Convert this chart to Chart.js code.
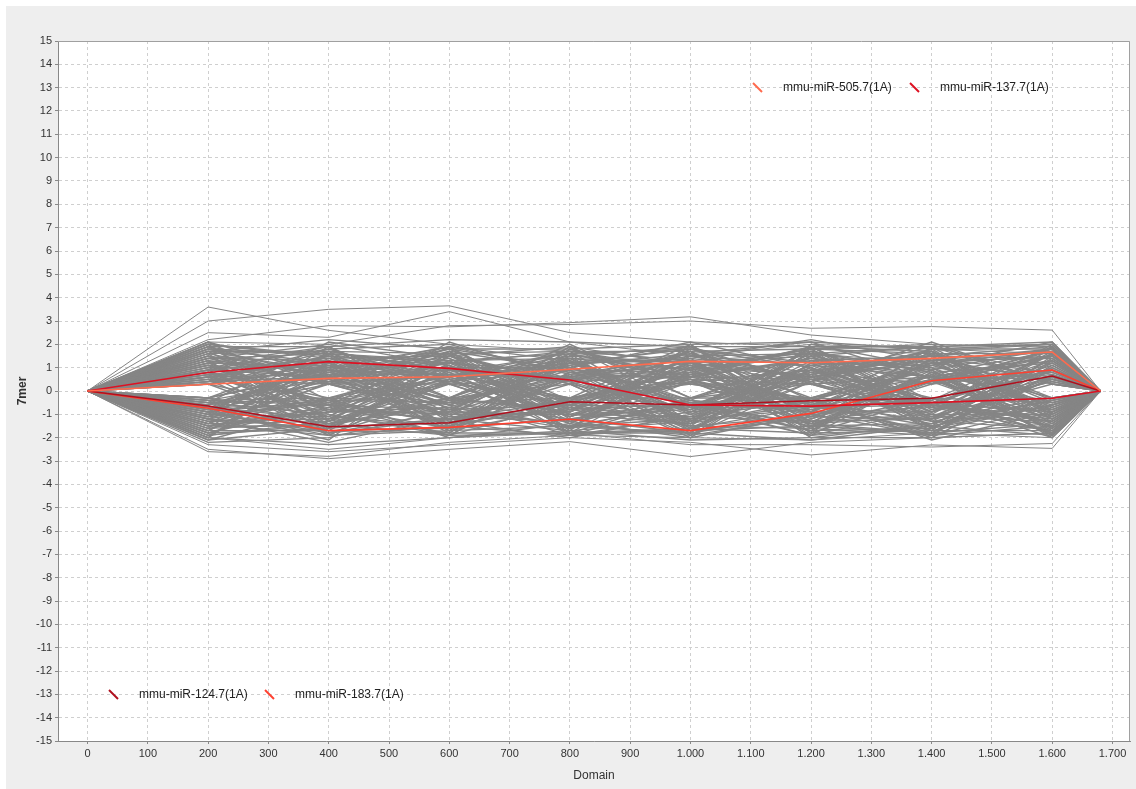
<!DOCTYPE html>
<html>
<head>
<meta charset="utf-8">
<script src="https://cdn.jsdelivr.net/npm/chart.js@4.4.1/dist/chart.umd.min.js"></script>
<style>
  html, body { margin: 0; padding: 0; background: #ffffff; }
  #wrap { position: absolute; left: 6px; top: 6px; width: 1130px; height: 783px; background: #eeeeee; }
</style>
</head>
<body>
<div id="wrap"><canvas id="chart" width="1130" height="783"></canvas></div>
<script>
// domain positions (x) shared by every profile
const domainX = [0, 200, 400, 600, 800, 1000, 1200, 1400, 1600, 1680];

// highlighted miRNAs
const hlLabels = ['mmu-miR-505.7(1A)', 'mmu-miR-137.7(1A)', 'mmu-miR-124.7(1A)', 'mmu-miR-183.7(1A)'];
const mir505 = [0, 0.29, 0.54, 0.61, 0.93, 1.27, 1.21, 1.40, 1.67, 0];
const mir137 = [0, 0.79, 1.26, 0.97, 0.47, -0.60, -0.65, -0.50, -0.31, 0];
const mir124 = [0, -0.64, -1.53, -1.36, -0.46, -0.60, -0.42, -0.31, 0.64, 0];
const mir183 = [0, -0.74, -1.70, -1.56, -1.21, -1.70, -0.96, 0.44, 0.90, 0];

// background profiles (grey), estimated
const greyRows = [
  [0, 1.8, 1.2, -0.6, 0.9, -1.4, 0.5, 1.6, -0.8, 0],
  [0, -1.5, -0.7, 1.3, -1.1, 0.6, 1.9, -0.4, 1.2, 0],
  [0, 0.4, 1.7, 0.8, -1.6, -0.9, -0.3, 1.1, 1.8, 0],
  [0, -0.9, -1.8, -1.2, 0.5, 1.4, 0.8, -1.5, -0.6, 0],
  [0, 1.1, -0.5, 1.9, 1.3, -0.4, -1.7, 0.7, -1.3, 0],
  [0, -0.3, 0.9, -1.7, -0.7, 1.8, 1.2, -0.9, 0.4, 0],
  [0, 2.0, 1.5, 0.4, 1.7, 0.9, -0.8, -1.9, 1.5, 0],
  [0, -1.9, -1.3, -0.4, -1.9, -1.6, 0.4, 1.4, -1.8, 0],
  [0, 0.7, -1.1, 1.5, 0.3, 1.1, -1.3, 0.3, 0.8, 0],
  [0, -0.6, 0.4, -0.9, 1.9, -0.7, 1.6, -0.6, -1.1, 0],
  [0, 1.4, 2.0, 1.1, -0.4, 0.3, -0.5, 1.8, 2.0, 0],
  [0, -1.2, -0.3, -2.0, -1.4, -1.9, -1.1, -1.2, -0.3, 0],
  [0, 0.3, 1.0, 0.5, 1.1, 1.6, 2.1, 0.5, -1.6, 0],
  [0, -2.1, -1.6, 0.7, -0.3, 0.4, -0.4, -2.0, 0.6, 0],
  [0, 1.6, 0.6, -1.4, 0.6, -1.2, 0.9, 1.3, 1.4, 0],
  [0, -0.8, -2.1, 1.7, -1.7, 2.0, -1.8, -0.3, -0.5, 0],
  [0, 0.9, 1.4, -0.3, 2.0, -0.3, 1.4, 0.9, -2.0, 0],
  [0, -1.4, 0.3, -1.1, -0.9, 1.2, -0.6, -1.7, 1.9, 0],
  [0, 1.9, -0.9, 2.1, 0.5, 0.8, 1.8, 2.0, 0.3, 0],
  [0, -0.4, -1.4, 0.3, -1.3, -0.5, -1.5, 0.4, -1.4, 0],
  [0, 1.2, 1.9, -0.8, 1.5, 1.9, 0.3, -1.1, 1.0, 0],
  [0, -1.7, 0.7, 1.0, -0.5, -1.1, 1.1, 1.5, -0.9, 0],
  [0, 0.5, -1.9, -1.5, 0.8, 0.7, -1.0, -0.7, 1.6, 0],
  [0, -1.0, 1.2, 1.6, -1.8, -1.8, 2.0, 1.0, -1.7, 0],
  [0, 2.1, -0.4, -0.5, 1.2, 1.3, -2.0, -1.4, 0.5, 0],
  [0, -2.0, 1.6, 0.6, -1.0, -0.8, 0.6, 1.7, -0.4, 0],
  [0, 0.8, -1.0, -1.8, 1.8, 0.5, -0.7, -0.4, 1.3, 0],
  [0, -0.5, 2.1, 1.4, -0.6, -1.3, 1.5, 0.6, -1.5, 0],
  [0, 1.3, -1.5, 0.9, 0.4, 1.7, -1.4, -1.8, 0.9, 0],
  [0, -1.1, 0.5, -0.7, -1.5, -0.6, 0.7, 1.9, -1.0, 0],
  [0, 1.7, 0.8, 1.8, 1.0, 2.1, 1.0, -1.0, 1.7, 0],
  [0, -1.6, -0.8, -1.0, -0.4, -1.5, -1.6, 0.8, -1.9, 0],
  [0, 0.6, 1.3, 0.4, 1.4, 0.9, 1.7, -1.6, 0.7, 0],
  [0, -0.7, -1.7, -1.6, -1.2, -0.4, -0.9, 1.2, -0.7, 0],
  [0, 1.5, 0.3, 1.2, -0.8, 1.5, 0.5, -0.5, 1.1, 0],
  [0, -1.3, -1.2, -0.3, 1.6, -1.7, -1.2, 0.5, -1.2, 0],
  [0, 1.0, 1.8, 2.0, 0.7, 0.6, 1.3, 1.5, 1.9, 0],
  [0, -1.8, -0.6, -1.3, -2.0, -1.0, -0.5, -1.3, -1.6, 0],
  [0, 0.4, 1.1, 0.7, 1.3, -1.4, 1.9, 1.7, -0.3, 0],
  [0, -0.5, -1.0, -1.9, -0.5, 1.0, -1.9, -0.8, 0.4, 0],
  [0, 1.8, 0.6, 1.5, 1.9, -0.3, 0.8, 0.3, 1.5, 0],
  [0, -2.2, -2.0, -0.8, -1.6, 1.6, -0.3, -2.1, -0.9, 0],
  [0, 0.3, 1.5, -1.2, 0.3, -1.9, 1.2, 1.1, 2.1, 0],
  [0, -0.9, -0.4, 0.5, -1.1, 0.4, -1.4, -1.1, -1.3, 0],
  [0, 1.2, 1.0, 1.3, 1.6, 1.8, 0.4, 2.1, 0.3, 0],
  [0, -1.5, -1.5, -0.4, -0.7, -1.2, -0.8, -0.3, -2.0, 0],
  [0, 0.7, 0.4, 1.7, 0.9, 0.8, 1.6, 0.8, 1.2, 0],
  [0, -0.3, -1.1, -1.5, -1.9, -0.5, -1.7, -1.6, -0.6, 0],
  [0, 2.0, 1.4, 0.6, 1.2, 1.4, 2.2, 1.3, 1.8, 0],
  [0, -1.2, -2.2, -1.1, -1.3, -2.0, -1.0, -1.9, -1.5, 0],
  [0, 1.1, -0.8, 1.0, -0.9, 1.1, -0.6, 1.0, -0.8, 0],
  [0, -0.6, 0.8, -0.6, 1.0, -0.9, 0.9, -0.9, 1.0, 0],
  [0, 1.6, 1.7, 1.6, 1.7, 1.7, 1.8, 1.6, 1.6, 0],
  [0, -1.7, -1.7, -1.8, -1.8, -1.6, -1.8, -1.7, -1.7, 0],
  [0, 0.9, 0.6, 0.9, 0.6, 1.2, 0.6, 1.2, 0.6, 0],
  [0, -1.0, -0.5, -1.4, -0.8, -1.4, -0.4, -1.4, -0.4, 0],
  [0, 1.4, 1.6, 1.3, 1.4, 1.2, 1.5, 1.9, 2.0, 0],
  [0, -1.4, -1.9, -1.7, -1.5, -1.8, -2.1, -1.5, -1.9, 0],
  [0, 0.5, 0.3, 0.3, 0.5, 0.3, 0.3, 0.6, 0.5, 0],
  [0, -0.4, -0.3, -0.5, -0.3, -0.3, -0.3, -0.5, -0.3, 0],
  [0, 1.9, 1.9, 2.2, 2.1, 1.9, 1.9, 1.9, 2.1, 0],
  [0, -2.0, -2.3, -2.0, -1.7, -2.1, -2.0, -2.0, -1.8, 0],
  [0, 0.8, -1.3, 0.5, -1.1, 0.5, -1.1, 0.7, -1.1, 0],
  [0, -0.8, 1.1, -0.6, 1.2, -0.6, 1.0, -0.5, 0.9, 0],
  [0, 1.3, 0.9, 1.9, 0.8, 1.0, 0.7, 1.5, 1.4, 0],
  [0, -1.3, -0.9, -0.9, -1.0, -1.1, -1.3, -1.0, -1.0, 0],
  [0, 1.7, 2.2, 1.8, 1.8, 2.0, 2.1, 1.8, 1.8, 0],
  [0, -1.9, -1.4, -1.9, -1.8, -1.7, -1.5, -1.8, -1.4, 0],
  [0, 0.6, 0.7, 0.7, 0.6, 0.6, 0.5, 0.4, 0.7, 0],
  [0, -0.7, -0.6, -0.8, -0.6, -0.7, -0.7, -0.6, -0.8, 0],
  [0, 1.5, -1.2, 0.8, -1.6, 1.3, -0.9, 1.7, -1.2, 0],
  [0, -1.1, 1.6, -1.3, 1.4, -0.7, 1.5, -1.2, 1.6, 0],
  [0, 0.6, -0.4, -1.9, 0.7, -1.6, 0.9, -0.3, -1.8, 0],
  [0, -0.4, 0.5, 1.8, -0.4, 1.7, -1.1, 0.4, 1.7, 0],
  [0, 1.9, 0.3, -1.0, 1.6, 0.4, -1.6, 1.4, 0.4, 0],
  [0, -1.8, -0.3, 1.1, -1.6, -0.4, 1.7, -1.3, -0.4, 0],
  [0, 0.9, 1.9, -0.3, -0.9, 1.9, -0.4, -1.9, 1.1, 0],
  [0, -0.9, -1.9, 0.4, 0.9, -1.9, 0.4, 1.8, -1.1, 0],
  [0, 1.3, 0.4, 1.4, -1.3, 0.7, 1.9, -0.8, 0.6, 0],
  [0, -1.3, -0.4, -1.4, 1.3, -0.7, -1.9, 0.8, -0.6, 0],
  [0, 0.3, -1.6, 1.2, 0.4, -1.0, 0.6, 1.5, -1.4, 0],
  [0, -0.3, 1.6, -1.2, -0.4, 1.0, -0.6, -1.5, 1.4, 0],
  [0, 1.7, -0.9, -0.7, 1.1, -1.3, 1.3, 0.6, 1.3, 0],
  [0, -1.7, 0.9, 0.7, -1.1, 1.3, -1.3, -0.6, -1.3, 0],
  [0, 1.0, 1.1, -1.6, 1.8, 0.3, -0.3, 1.2, -0.9, 0],
  [0, -1.0, -1.1, 1.6, -1.8, -0.3, 0.3, -1.2, 0.9, 0],
  [0, 0.5, 1.8, 0.3, -1.4, 1.5, 1.1, -0.7, 2.0, 0],
  [0, -0.5, -1.8, -0.3, 1.4, -1.5, -1.1, 0.7, -1.9, 0],
  [0, 2.1, 0.7, 1.6, 0.3, -0.8, 1.6, 1.9, 0.7, 0],
  [0, -2.1, -0.7, -1.6, -0.3, 0.8, -1.6, -1.9, -0.7, 0],
  [0, 0.8, -0.3, 0.6, 1.5, 1.2, -1.5, 0.9, -1.6, 0],
  [0, -0.8, 0.3, -0.6, -1.5, -1.2, 1.5, -0.9, 1.6, 0],
  [0, 1.4, 1.3, -0.4, 0.6, -1.7, 0.7, -1.6, 0.5, 0],
  [0, -1.4, -1.3, 0.4, -0.6, 1.7, -0.7, 1.6, -0.5, 0],
  [0, 0.4, 0.6, 1.9, -0.8, 0.6, 1.4, 0.3, 1.8, 0],
  [0, -0.4, -0.6, -1.9, 0.8, -0.6, -1.4, -0.3, -1.8, 0],
  [0, 1.6, -1.7, 1.0, 1.0, -0.4, -0.9, 1.1, -0.3, 0],
  [0, -1.6, 1.7, -1.0, -1.0, 0.4, 0.9, -1.1, 0.3, 0],
  [0, 0.7, 1.2, -1.1, 1.9, 1.1, 0.4, -1.3, 1.2, 0],
  [0, -0.7, -1.2, 1.1, -1.9, -1.1, -0.4, 1.3, -1.2, 0],
  [0, 1.2, -0.6, 0.3, -0.3, 2.0, -1.2, 0.5, 0.9, 0],
  [0, -1.2, 0.6, -0.3, 0.3, -2.0, 1.2, -0.5, -0.9, 0],
  [0, 1.8, 1.6, 1.2, 0.8, 0.5, 0.3, -0.6, -1.5, 0],
  [0, -1.8, -1.6, -1.2, -0.8, -0.5, -0.3, 0.6, 1.5, 0],
  [0, 0.3, -0.8, -1.2, -1.7, -1.3, -0.6, 0.5, 1.3, 0],
  [0, -0.3, 0.8, 1.2, 1.7, 1.3, 0.6, -0.5, -1.3, 0],
  [0, 1.1, 0.5, -0.5, -1.2, -1.8, -1.0, 0.7, 1.7, 0],
  [0, -1.1, -0.5, 0.5, 1.2, 1.8, 1.0, -0.7, -1.7, 0],
  [0, 2.0, -1.3, 1.5, -0.5, 0.9, -1.8, 1.6, -0.7, 0],
  [0, -2.0, 1.3, -1.5, 0.5, -0.9, 1.8, -1.6, 0.7, 0],
  [0, 0.6, 1.5, 1.1, -0.7, -1.5, 1.7, 0.8, -0.5, 0],
  [0, -1.5, -0.9, 0.8, 1.6, 0.6, -0.5, -1.8, 1.3, 0],
  [0, 1.3, -1.8, -0.9, 0.6, 1.6, 0.5, -1.0, -1.7, 0],
  [0, -0.6, 1.0, 1.9, -1.2, -0.6, -1.7, 1.4, 0.8, 0],
  [0, 1.9, 1.0, -1.5, -0.6, 0.7, 1.3, -0.4, 1.9, 0],
  [0, -1.9, 0.4, 0.6, 1.7, -1.3, 0.8, 1.7, -1.0, 0],
  [0, 0.9, -1.4, -0.7, -1.5, 0.4, -1.4, 1.9, 0.3, 0],
  [0, -0.9, 1.4, 1.5, 0.4, -1.8, 1.9, -0.6, -1.5, 0],
  [0, 1.5, 0.7, -1.8, 1.2, -0.5, -0.8, 0.5, 1.5, 0],
  [0, -1.2, -1.6, 0.9, -0.8, 1.4, -1.5, -1.4, 0.6, 0],
  [0, 0.4, 0.9, -0.4, 1.3, -1.0, 1.0, -1.7, -0.6, 0],
  [0, -0.5, -0.4, 1.3, -1.4, 0.8, -0.4, 0.9, 1.8, 0],
  [0, 1.7, 1.7, 0.9, 0.5, -0.6, -1.9, -1.5, -0.4, 0],
  [0, -1.6, -1.4, -0.5, 0.7, 1.5, 1.6, 1.0, 0.5, 0],
  [0, 1.0, -0.6, 1.7, -1.0, -1.4, 0.6, 1.3, -1.0, 0],
  [0, -1.0, 1.9, -0.8, 1.1, 1.9, -0.9, -0.9, 1.0, 0],
  [0, 0.7, -1.9, 0.5, -1.8, 1.0, 1.8, -0.7, -1.2, 0],
  [0, -0.7, 0.7, -1.7, 1.5, -1.6, -0.7, 1.2, 1.5, 0],
  [0, 1.4, 0.3, 0.7, -0.3, 0.5, -1.3, -1.2, 0.9, 0],
  [0, -1.4, 1.2, -0.4, 0.5, -0.8, 1.1, 0.6, -1.9, 0]
];

// outlying grey profiles, estimated
const greyOutliers = [
  [0, 3.6, 2.6, 2.0, 1.7, 1.3, 1.6, 1.2, 1.7, 0],
  [0, 3.0, 3.5, 3.65, 2.5, 2.1, 1.9, 1.7, 2.0, 0],
  [0, 2.5, 2.3, 3.4, 2.1, 1.5, 2.0, 1.8, 1.6, 0],
  [0, 2.2, 2.8, 2.75, 2.93, 3.18, 2.4, 2.0, 1.9, 0],
  [0, 2.1, 2.0, 2.8, 2.85, 3.0, 2.69, 2.76, 2.61, 0],
  [0, -2.6, -2.8, -2.2, -1.9, -2.0, -2.1, -1.8, -2.0, 0],
  [0, -2.5, -2.9, -2.5, -2.17, -2.81, -2.2, -2.0, -1.8, 0],
  [0, -2.3, -2.6, -2.3, -2.0, -2.2, -2.74, -2.31, -2.46, 0],
  [0, -2.0, -2.5, -2.0, -1.8, -2.3, -2.3, -2.4, -2.25, 0]
];

// tick labels
const xTicks = [0, 100, 200, 300, 400, 500, 600, 700, 800, 900, 1000, 1100, 1200, 1300, 1400, 1500, 1600, 1700];
const yTicks = [-15, -14, -13, -12, -11, -10, -9, -8, -7, -6, -5, -4, -3, -2, -1, 0, 1, 2, 3, 4, 5, 6, 7, 8, 9, 10, 11, 12, 13, 14, 15];

const FONT = "'Liberation Sans', Arial, sans-serif";
const hlColors = ['#ff6a4d', '#dd1122', '#b0101e', '#ff4030'];
const hlSeries = [mir505, mir137, mir124, mir183];

const toPoints = (vals) => vals.map((v, i) => ({ x: domainX[i], y: v }));
const fmtThousand = (v) => {
    const s = String(Math.round(v));
    return s.length > 3 ? s.slice(0, -3) + '.' + s.slice(-3) : s;
};

const datasets = [];
hlSeries.forEach((vals, i) => {
    datasets.push({
        label: hlLabels[i],
        data: toPoints(vals),
        borderColor: hlColors[i],
        borderWidth: 1.6,
        order: 0
    });
});
greyRows.forEach((vals, i) => {
    datasets.push({
        label: 'g' + i,
        data: toPoints(vals),
        borderColor: '#858585',
        borderWidth: 1.4,
        order: 1
    });
});
greyOutliers.forEach((vals, i) => {
    datasets.push({
        label: 'o' + i,
        data: toPoints(vals),
        borderColor: '#858585',
        borderWidth: 1,
        order: 1
    });
});

// plot frame + in-plot legends
const framePlugin = {
    id: 'frame',
    beforeDraw(chart) {
        const { ctx, chartArea: a } = chart;
        ctx.save();
        ctx.fillStyle = '#ffffff';
        ctx.fillRect(a.left, a.top, a.right - a.left, a.bottom - a.top);
        ctx.restore();
    },
    afterDraw(chart) {
        const { ctx, chartArea: a } = chart;
        ctx.save();
        ctx.strokeStyle = '#a0a0a0';
        ctx.lineWidth = 1;
        ctx.beginPath();
        ctx.moveTo(a.left, a.top + 0.5);
        ctx.lineTo(a.right - 0.5, a.top + 0.5);
        ctx.lineTo(a.right - 0.5, a.bottom);
        ctx.stroke();

        const drawItem = (idx, x, y) => {
            ctx.strokeStyle = hlColors[idx];
            ctx.lineWidth = 2;
            ctx.beginPath();
            ctx.moveTo(x, y - 5);
            ctx.lineTo(x + 9, y + 4);
            ctx.stroke();
            ctx.fillStyle = '#222222';
            ctx.font = '12px ' + FONT;
            ctx.textBaseline = 'middle';
            ctx.textAlign = 'left';
            ctx.fillText(hlLabels[idx], x + 30, y);
        };
        // top right box
        drawItem(0, a.left + 695, a.top + 47);
        drawItem(1, a.left + 852, a.top + 47);
        // bottom left box
        drawItem(2, a.left + 51, a.bottom - 46);
        drawItem(3, a.left + 207, a.bottom - 46);
        ctx.restore();
    }
};

const ctx = document.getElementById('chart').getContext('2d');
new Chart(ctx, {
    type: 'line',
    data: { datasets },
    options: {
        responsive: false,
        animation: false,
        elements: { point: { radius: 0 }, line: { tension: 0 } },
        layout: { padding: { top: 35, right: 6, left: 0, bottom: 0 } },
        plugins: { legend: { display: false }, tooltip: { enabled: false } },
        scales: {
            x: {
                type: 'linear',
                min: -49,
                max: 1729,
                afterBuildTicks: (s) => { s.ticks = xTicks.map(v => ({ value: v })); },
                afterFit: (s) => { s.height = 48; },
                ticks: {
                    autoSkip: false,
                    maxRotation: 0,
                    padding: 3,
                    color: '#333333',
                    font: { family: FONT, size: 11 },
                    callback: (v) => fmtThousand(v)
                },
                grid: {
                    color: '#cfcfcf',
                    tickLength: 3,
                    tickColor: '#888888',
                    tickBorderDash: []
                },
                border: { color: '#888888', width: 1, dash: [3, 3] },
                title: {
                    display: true,
                    text: 'Domain',
                    color: '#333333',
                    font: { family: FONT, size: 12 },
                    padding: { top: 0, bottom: 6 }
                }
            },
            y: {
                type: 'linear',
                min: -15,
                max: 15,
                afterBuildTicks: (s) => { s.ticks = yTicks.map(v => ({ value: v })); },
                afterFit: (s) => { s.width = 52; },
                ticks: {
                    autoSkip: false,
                    padding: 3,
                    color: '#333333',
                    font: { family: FONT, size: 11 }
                },
                grid: {
                    color: '#cfcfcf',
                    tickLength: 3,
                    tickColor: '#888888',
                    tickBorderDash: []
                },
                border: { color: '#888888', width: 1, dash: [3, 3] },
                title: {
                    display: true,
                    text: '7mer',
                    color: '#333333',
                    font: { family: FONT, size: 12, weight: 'bold' },
                    padding: { top: 9, bottom: 0 }
                }
            }
        }
    },
    plugins: [framePlugin]
});
</script>
</body>
</html>
